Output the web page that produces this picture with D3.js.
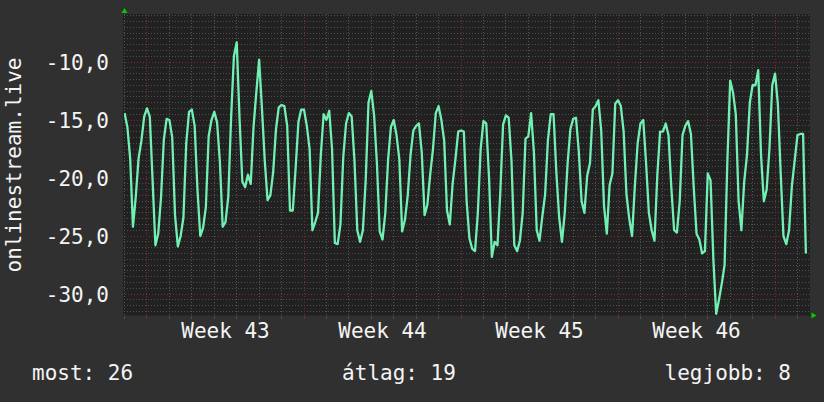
<!DOCTYPE html>
<html>
<head>
<meta charset="utf-8">
<script src="https://cdn.jsdelivr.net/npm/d3@7"></script>
<style>
  html, body { margin: 0; padding: 0; background: #303030; }
  svg { display: block; }
  text { font-family: 'DejaVu Sans Mono', monospace; font-size: 21px; fill: #f4f4f4; }
</style>
</head>
<body>
<svg id="chart"></svg>
<script>
// samples every 3 hours, starting Sun 2023-10-22 00:00 UTC
const start = Date.UTC(2023, 9, 22);
const stepHours = 3;
const viewStart = Date.UTC(2023, 9, 21, 23, 24);
const viewEnd = Date.UTC(2023, 10, 21, 13, 24);

const rank = [
  -14.4, -15.6, -18.3, -24.2, -21.6, -18.3, -16.8, -14.7,
  -14.0, -14.7, -20.2, -25.8, -24.8, -21.7, -16.7, -14.9,
  -15.0, -16.5, -23.2, -25.9, -25.0, -23.4, -17.0, -14.3,
  -14.1, -15.5, -21.0, -25.0, -24.3, -22.5, -16.4, -15.0,
  -14.3, -15.2, -18.6, -24.2, -23.8, -21.6, -14.8, -9.5,
  -8.3, -14.8, -20.3, -20.8, -19.7, -20.5, -15.6, -12.6,
  -9.8, -14.0, -18.5, -21.9, -21.5, -19.5, -15.8, -13.9,
  -13.7, -13.8, -15.5, -22.8, -22.8, -19.2, -15.2, -14.1,
  -14.1, -15.5, -17.5, -24.5, -23.8, -23.0, -18.0, -14.5,
  -15.0, -14.2, -17.5, -25.6, -25.7, -24.0, -18.2, -15.3,
  -14.4, -14.7, -18.5, -24.5, -25.5, -24.5, -20.2, -13.5,
  -12.5, -14.6, -18.7, -24.6, -25.3, -23.0, -18.4, -15.6,
  -15.0, -16.3, -18.4, -24.6, -23.6, -21.5, -18.0, -15.9,
  -15.5, -15.3, -17.8, -23.2, -22.3, -19.7, -17.5, -14.4,
  -13.8, -15.0, -16.8, -22.8, -24.0, -20.5, -18.4, -16.0,
  -15.9, -16.0, -22.0, -25.2, -26.1, -26.3, -23.0, -17.5,
  -15.1, -15.3, -20.0, -26.8, -25.5, -25.8, -21.3, -15.4,
  -14.6, -14.8, -18.5, -25.8, -26.3, -25.4, -23.0, -16.6,
  -16.4, -14.4, -17.8, -24.5, -25.4, -23.3, -21.4, -16.7,
  -14.5, -14.5, -19.5, -23.4, -25.5, -23.0, -18.8, -15.8,
  -14.9, -14.8, -17.7, -22.0, -23.0, -19.8, -18.7, -14.1,
  -13.8, -13.3, -15.9, -22.4, -24.8, -20.6, -19.6, -13.6,
  -13.3, -13.8, -16.0, -21.4, -23.5, -25.0, -20.7, -17.0,
  -15.3, -15.0, -18.7, -23.0, -24.5, -25.4, -19.8, -16.0,
  -16.0, -15.3, -16.3, -20.8, -24.5, -24.7, -22.0, -16.3,
  -15.5, -15.1, -16.2, -20.8, -24.8, -25.3, -26.5, -26.3,
  -19.6, -20.2, -27.0, -31.7, -30.5, -29.1, -27.5, -18.5,
  -11.6, -12.6, -14.5, -22.0, -24.5, -20.3, -18.0, -13.5,
  -12.0, -12.0, -10.7, -18.0, -22.0, -21.0, -17.5, -12.0,
  -11.0, -13.6, -19.5, -25.0, -25.7, -24.5, -20.7, -18.5,
  -16.3, -16.2, -16.2, -26.5,
];

const yMin = -31.85;
const yMax = -5.86;
const yTicks = [-30, -25, -20, -15, -10];
const weekLabels = ['Week 43', 'Week 44', 'Week 45', 'Week 46'];
const legendLabels = ['most', 'átlag', 'legjobb'];
const legendValues = [26, 19, 8];
const seriesName = 'onlinestream.live';

function drawChart() {
  const W = 824, H = 402;
  const plot = { left: 124, right: 810, top: 14, bottom: 315.5 };

  const svg = d3.select('#chart').attr('width', W).attr('height', H);

  svg.append('rect')
    .attr('width', W).attr('height', H)
    .attr('fill', '#303030');

  svg.append('rect')
    .attr('x', plot.left - 1).attr('y', plot.top)
    .attr('width', plot.right - plot.left + 1)
    .attr('height', plot.bottom - plot.top)
    .attr('fill', '#212121');

  const x = d3.scaleUtc()
    .domain([new Date(viewStart), new Date(viewEnd)])
    .range([plot.left, plot.right]);
  const y = d3.scaleLinear()
    .domain([yMin, yMax])
    .range([plot.bottom, plot.top]);

  const data = rank.map((v, i) => ({
    t: new Date(start + i * stepHours * 3600 * 1000),
    v: v,
  }));

  const crisp = (v) => Math.round(v - 0.5) + 0.5;
  const minorColor = '#4e4e4e';
  const majorColor = '#7a2e2e';

  const grid = svg.append('g').attr('shape-rendering', 'crispEdges');

  // horizontal minor grid every 0.5
  const minorY = d3.range(-63, -11).map((k) => k / 2).filter((v) => v % 5 !== 0);
  grid.selectAll('.hmin')
    .data(minorY)
    .enter()
    .append('line')
    .attr('x1', plot.left).attr('x2', plot.right)
    .attr('y1', (d) => crisp(y(d))).attr('y2', (d) => crisp(y(d)))
    .attr('stroke', minorColor)
    .attr('stroke-dasharray', '1,2');

  // vertical minor grid: days
  const days = d3.utcDay.range(x.domain()[0], x.domain()[1]);
  const mondays = d3.utcMonday.range(x.domain()[0], x.domain()[1]);
  const isMonday = (d) => d.getUTCDay() === 1;
  grid.selectAll('.vmin')
    .data(days.filter((d) => !isMonday(d)))
    .enter()
    .append('line')
    .attr('x1', (d) => crisp(x(d))).attr('x2', (d) => crisp(x(d)))
    .attr('y1', plot.top).attr('y2', plot.bottom)
    .attr('stroke', '#555555')
    .attr('stroke-dasharray', '1,2');

  // major grid
  grid.selectAll('.hmaj')
    .data(yTicks)
    .enter()
    .append('line')
    .attr('x1', plot.left - 2).attr('x2', plot.right)
    .attr('y1', (d) => crisp(y(d))).attr('y2', (d) => crisp(y(d)))
    .attr('stroke', majorColor)
    .attr('stroke-dasharray', '1,2');

  grid.selectAll('.vmaj')
    .data(mondays)
    .enter()
    .append('line')
    .attr('x1', (d) => crisp(x(d))).attr('x2', (d) => crisp(x(d)))
    .attr('y1', plot.top).attr('y2', plot.bottom)
    .attr('stroke', majorColor)
    .attr('stroke-dasharray', '1,2');

  // small ticks under the x axis
  grid.selectAll('.tick')
    .data(days)
    .enter()
    .append('line')
    .attr('x1', (d) => crisp(x(d))).attr('x2', (d) => crisp(x(d)))
    .attr('y1', plot.bottom).attr('y2', plot.bottom + 3)
    .attr('stroke', (d) => (isMonday(d) ? majorColor : minorColor));

  // the series
  const chartBody = svg.append('g');
  chartBody.append('clipPath')
    .attr('id', 'clip')
    .append('rect')
    .attr('x', plot.left).attr('y', plot.top)
    .attr('width', plot.right - plot.left)
    .attr('height', plot.bottom - plot.top + 2);

  chartBody.append('path')
    .datum(data)
    .attr('clip-path', 'url(#clip)')
    .attr('fill', 'none')
    .attr('stroke', '#72efb3')
    .attr('stroke-width', 2.3)
    .attr('stroke-linejoin', 'round')
    .attr('d', d3.line().x((d) => x(d.t)).y((d) => y(d.v)));

  // axis arrows
  svg.append('path')
    .attr('d', `M${plot.left - 2.5},13 L${plot.left + 3.5},13 L${plot.left + 0.5},8 Z`)
    .attr('fill', '#00cc00');
  svg.append('path')
    .attr('d', `M${plot.right + 1.5},${plot.bottom - 3} L${plot.right + 1.5},${plot.bottom + 3} L${plot.right + 6.5},${plot.bottom} Z`)
    .attr('fill', '#00cc00');

  // y labels
  const fmt = d3.formatLocale({
    decimal: ',', thousands: ' ', grouping: [3], currency: ['', ''], minus: '-',
  }).format('.1f');
  svg.selectAll('.ylab')
    .data(yTicks)
    .enter()
    .append('text')
    .attr('x', 109)
    .attr('y', (d) => y(d) + 7.5)
    .attr('text-anchor', 'end')
    .text((d) => fmt(d));

  // week labels at mid-week
  svg.selectAll('.xlab')
    .data(mondays)
    .enter()
    .append('text')
    .attr('x', (d) => x(new Date(d.getTime() + 3.5 * 86400000)))
    .attr('y', 338)
    .attr('text-anchor', 'middle')
    .text((d, i) => weekLabels[i]);

  // vertical title
  svg.append('text')
    .attr('transform', 'translate(21,165) rotate(-90)')
    .attr('text-anchor', 'middle')
    .text(seriesName);

  // legend
  const legendX = [32, 399, 791];
  const anchors = ['start', 'middle', 'end'];
  svg.selectAll('.legend')
    .data(legendLabels)
    .enter()
    .append('text')
    .attr('x', (d, i) => legendX[i])
    .attr('y', 380)
    .attr('text-anchor', (d, i) => anchors[i])
    .text((d, i) => `${d}: ${legendValues[i]}`);
}

drawChart();
</script>
</body>
</html>
